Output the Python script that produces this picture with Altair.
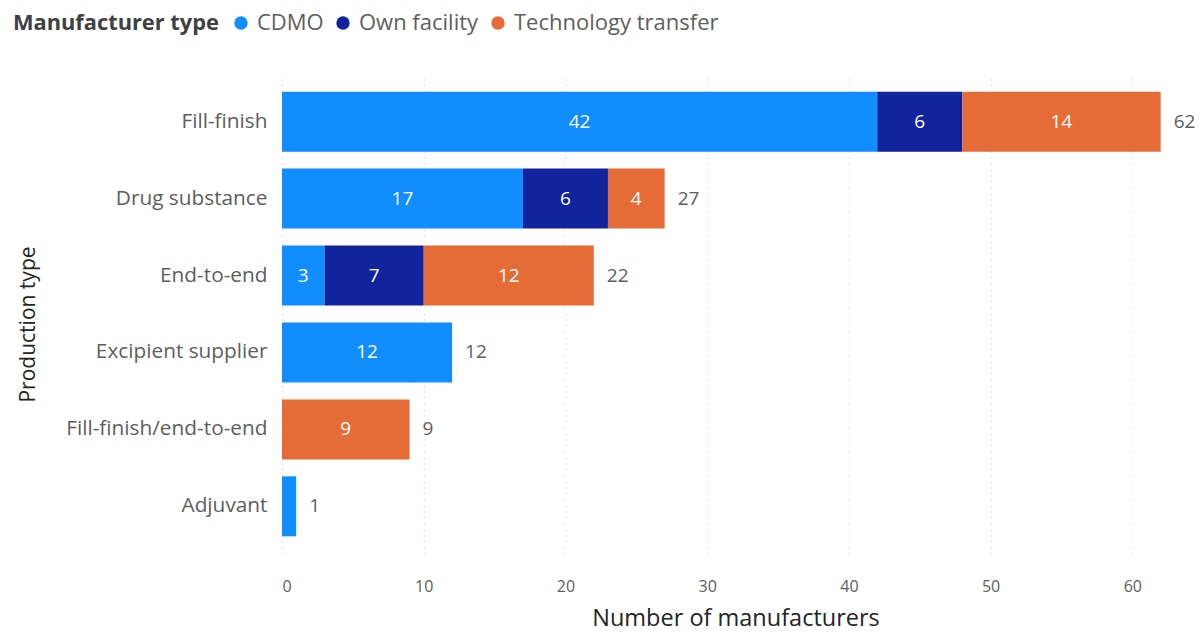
import altair as alt
import pandas as pd

categories = ["Fill-finish", "Drug substance", "End-to-end", "Excipient supplier", "Fill-finish/end-to-end", "Adjuvant"]
series = ["CDMO", "Own facility", "Technology transfer"]
cdmo = [42, 17, 3, 12, 0, 1]
own = [6, 6, 7, 0, 0, 0]
tech = [14, 4, 12, 0, 9, 0]
colors = ["#118DFF", "#12239E", "#E66C37"]

rows = []
for i, c in enumerate(categories):
    for j, (s, vals) in enumerate(zip(series, [cdmo, own, tech])):
        if vals[i] > 0:
            rows.append({"prod": c, "type": s, "value": vals[i], "ord": j})
df = pd.DataFrame(rows)
totals = pd.DataFrame({"prod": categories, "total": [a + b + c for a, b, c in zip(cdmo, own, tech)]})

FONT = "Open Sans"
ysc = alt.Scale(domain=categories, paddingInner=0.22, paddingOuter=0.23)
xsc = alt.Scale(domain=[0, 64], nice=False)

base = alt.Chart(df).transform_stack(
    stack="value", groupby=["prod"], as_=["x0", "x1"], sort=[alt.SortField("ord", order="ascending")]
)

bars = base.mark_bar().encode(
    y=alt.Y("prod:N", scale=ysc, sort=categories,
            axis=alt.Axis(title="Production type", labelFontSize=20.8, labelColor="#605E5C",
                          labelFont=FONT, labelLimit=400, ticks=False, domain=False, labelPadding=15,
                          titleFont=FONT, titleFontSize=21, titleFontWeight="normal",
                          titleColor="#252423", titleX=-254, titleY=250, titleAngle=270,
                          titleBaseline="middle", titleAlign="center")),
    x=alt.X("x0:Q", scale=xsc,
            axis=alt.Axis(title="Number of manufacturers", values=[0, 10, 20, 30, 40, 50, 60],
                          labelFontSize=16, labelColor="#605E5C", labelFont=FONT,
                          ticks=False, domain=False, labelPadding=24,
                          grid=True, gridDash=[1, 5], gridColor="#C8C8C8", gridWidth=1.2,
                          titleFont=FONT, titleFontSize=23.5, titleFontWeight="normal",
                          titleColor="#252423", titlePadding=12)),
    x2="x1:Q",
    color=alt.Color("type:N", scale=alt.Scale(domain=series, range=colors),
                    legend=alt.Legend(title="Manufacturer type", orient="none", direction="horizontal",
                                      legendX=-269, legendY=-62, titleOrient="left",
                                      titleFont=FONT, titleFontSize=21.8, titleFontWeight="bold",
                                      titleColor="#404040", titleLimit=400,
                                      labelFont=FONT, labelFontSize=22, labelLimit=400,
                                      labelColor="#605E5C", symbolType="circle", symbolSize=180,
                                      symbolStrokeWidth=0, columnPadding=8, labelOffset=5,
                                      titlePadding=11)),
)

labels = base.transform_filter("datum.value > 1").transform_calculate(
    mid="(datum.x0 + datum.x1) / 2"
).mark_text(color="white", fontSize=19, font=FONT).encode(
    y=alt.Y("prod:N", scale=ysc, sort=categories),
    x=alt.X("mid:Q", scale=xsc),
    text="value:Q",
)

tot = alt.Chart(totals).mark_text(
    color="#605E5C", fontSize=19, font=FONT, align="left", dx=13
).encode(
    y=alt.Y("prod:N", scale=ysc, sort=categories),
    x=alt.X("total:Q", scale=xsc),
    text="total:Q",
)

chart = alt.layer(bars, labels, tot).properties(
    width=907, height=480,
    autosize=alt.AutoSizeParams(type="none"),
    padding={"left": 282, "top": 74, "right": 14, "bottom": 78},
).configure_view(stroke=None)

chart.save("out.html", embed_options={"renderer": "svg", "actions": False})
